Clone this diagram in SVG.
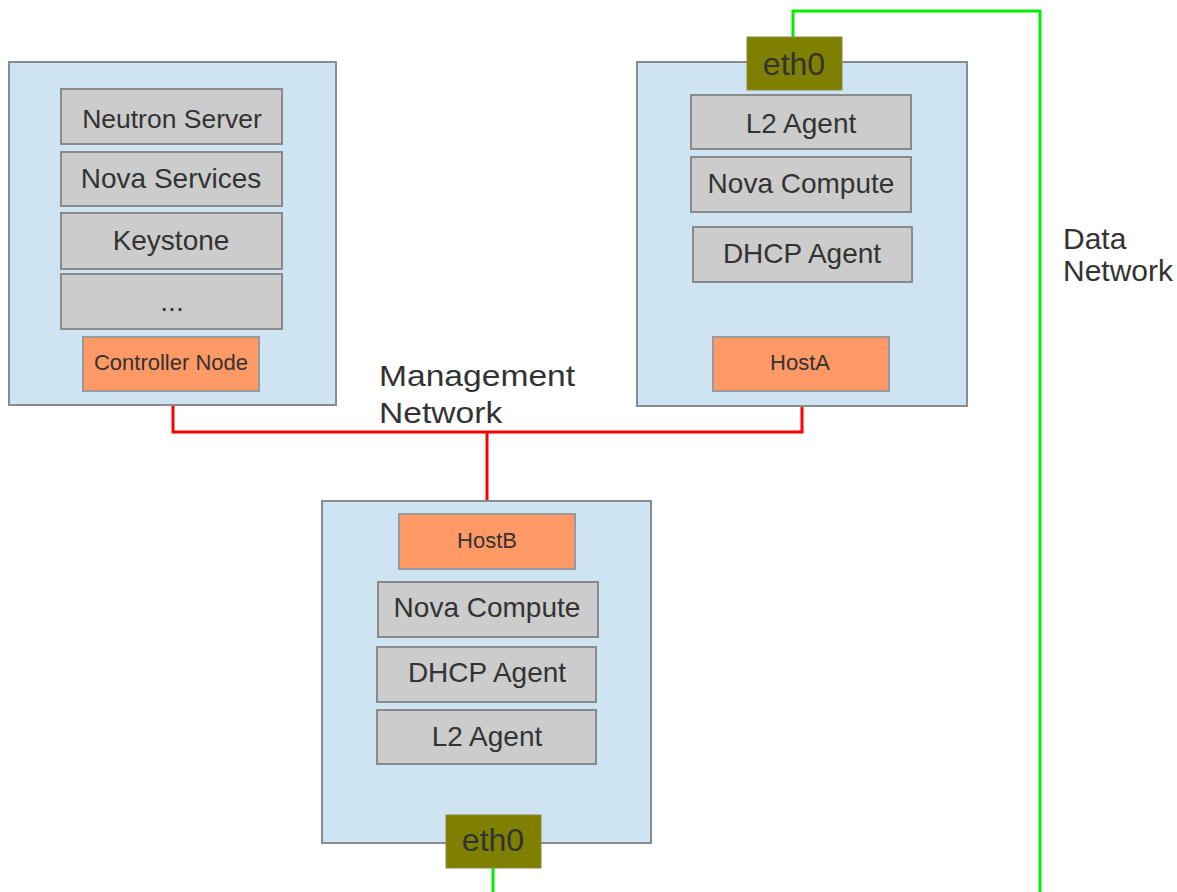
<svg xmlns="http://www.w3.org/2000/svg" width="1177" height="892" viewBox="0 0 1177 892">
<style>
text{font-family:"Liberation Sans",Arial,sans-serif;fill:#333333;text-anchor:middle}
.host{fill:#cfe4f2;stroke:#8c8c8c;stroke-width:2}
.svc{fill:#cccccc;stroke:#8a8a8a;stroke-width:2}
.lbl{fill:#ff9966;stroke:#9a9a9a;stroke-width:2}
.eth{fill:#808000;stroke:#8a8a40;stroke-width:1}
.t28{font-size:28px}
.t22{font-size:22px}
.t32{font-size:32px}
.net{font-size:30px;text-anchor:start}
.mgmt{stroke:#ff0000;stroke-width:3;fill:none}
.data{stroke:#00ee00;stroke-width:3;fill:none}
</style>
<rect width="1177" height="892" fill="#ffffff"/>
<g id="connectors">
<polyline class="mgmt" points="173,405 173,432 802,432 802,406"/>
<line class="mgmt" x1="487" y1="432" x2="487" y2="501"/>
<polyline class="data" points="793,37 793,11 1040,11 1040,892"/>
<line class="data" x1="493" y1="868" x2="493" y2="892"/>
</g>
<g id="controller">
<rect class="host" x="9" y="62" width="327" height="343"/>
<rect class="svc" x="61" y="89" width="221" height="55"/>
<text class="t28" x="172" y="128" style="font-size:26.5px">Neutron Server</text>
<rect class="svc" x="61" y="152" width="221" height="54"/>
<text class="t28" x="171" y="188">Nova Services</text>
<rect class="svc" x="61" y="213" width="221" height="56"/>
<text class="t28" x="171" y="250">Keystone</text>
<rect class="svc" x="61" y="274" width="221" height="55"/>
<text class="t28" x="172" y="311">...</text>
<rect class="lbl" x="83" y="337" width="176" height="54"/>
<text class="t22" x="171" y="370">Controller Node</text>
</g>
<g id="hostA">
<rect class="host" x="637" y="62" width="330" height="344"/>
<rect class="eth" x="747" y="37" width="95" height="53"/>
<text class="t32" x="794" y="75">eth0</text>
<rect class="svc" x="691" y="95" width="220" height="54"/>
<text class="t28" x="801" y="133">L2 Agent</text>
<rect class="svc" x="691" y="157" width="220" height="55"/>
<text class="t28" x="801" y="193">Nova Compute</text>
<rect class="svc" x="693" y="227" width="219" height="55"/>
<text class="t28" x="802" y="263">DHCP Agent</text>
<rect class="lbl" x="713" y="337" width="176" height="54"/>
<text class="t22" x="800" y="370">HostA</text>
</g>
<g id="hostB">
<rect class="host" x="322" y="501" width="329" height="342"/>
<rect class="lbl" x="399" y="514" width="176" height="55"/>
<text class="t22" x="487" y="548">HostB</text>
<rect class="svc" x="378" y="582" width="220" height="55"/>
<text class="t28" x="487" y="617">Nova Compute</text>
<rect class="svc" x="377" y="647" width="219" height="55"/>
<text class="t28" x="487" y="682">DHCP Agent</text>
<rect class="svc" x="377" y="710" width="219" height="54"/>
<text class="t28" x="487" y="746">L2 Agent</text>
<rect class="eth" x="446" y="815" width="95" height="53"/>
<text class="t32" x="493" y="851">eth0</text>
</g>
<g id="mgmt-label" transform="translate(379,0) scale(1.12,1)">
<text class="net" x="0" y="386">Management</text>
<text class="net" x="0" y="423">Network</text>
</g>
<g id="data-label">
<text class="net" x="1063" y="249">Data</text>
<text class="net" x="1063" y="281">Network</text>
</g>
</svg>
